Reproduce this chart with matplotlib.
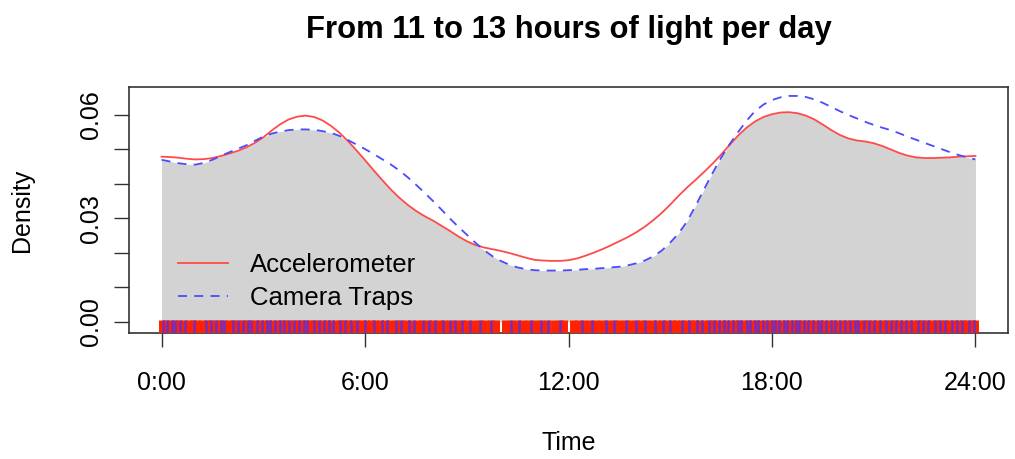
import matplotlib
matplotlib.use("Agg")
import matplotlib.pyplot as plt
import numpy as np

plt.rcParams['font.family'] = ['Liberation Sans', 'DejaVu Sans']

# ---- data ----
hours = [0.0, 0.25, 0.5, 0.75, 1.0, 1.25, 1.5, 1.75, 2.0, 2.25, 2.5, 2.75, 3.0, 3.25, 3.5, 3.75,
         4.0, 4.25, 4.5, 4.75, 5.0, 5.25, 5.5, 5.75, 6.0, 6.25, 6.5, 6.75, 7.0, 7.25, 7.5, 7.75,
         8.0, 8.25, 8.5, 8.75, 9.0, 9.25, 9.5, 9.75, 10.0, 10.25, 10.5, 10.75, 11.0, 11.25,
         11.5, 11.75, 12.0, 12.25, 12.5, 12.75, 13.0, 13.25, 13.5, 13.75, 14.0, 14.25, 14.5,
         14.75, 15.0, 15.25, 15.5, 15.75, 16.0, 16.25, 16.5, 16.75, 17.0, 17.25, 17.5, 17.75,
         18.0, 18.25, 18.5, 18.75, 19.0, 19.25, 19.5, 19.75, 20.0, 20.25, 20.5, 20.75, 21.0,
         21.25, 21.5, 21.75, 22.0, 22.25, 22.5, 22.75, 23.0, 23.25, 23.5, 23.75, 24.0]

accelerometer = [0.0479, 0.0478, 0.0476, 0.0473, 0.0471, 0.0472, 0.0475, 0.0481, 0.0488,
                 0.0496, 0.0506, 0.0519, 0.0535, 0.0555, 0.0573, 0.0587, 0.0595, 0.0598,
                 0.0594, 0.0584, 0.0568, 0.0548, 0.0524, 0.0497, 0.0469, 0.0440, 0.0412,
                 0.0385, 0.0361, 0.0340, 0.0322, 0.0307, 0.0294, 0.0279, 0.0264, 0.0248,
                 0.0234, 0.0223, 0.0216, 0.0211, 0.0206, 0.0200, 0.0193, 0.0186, 0.0180,
                 0.0178, 0.0177, 0.0177, 0.0179, 0.0184, 0.0192, 0.0201, 0.0211, 0.0222,
                 0.0234, 0.0246, 0.0260, 0.0276, 0.0295, 0.0316, 0.0340, 0.0366, 0.0390,
                 0.0412, 0.0435, 0.0459, 0.0485, 0.0513, 0.0540, 0.0563, 0.0581, 0.0594,
                 0.0602, 0.0607, 0.0608, 0.0605, 0.0598, 0.0587, 0.0572, 0.0556, 0.0542,
                 0.0532, 0.0526, 0.0523, 0.0518, 0.0510, 0.0500, 0.0490, 0.0482, 0.0477,
                 0.0475, 0.0475, 0.0476, 0.0477, 0.0479, 0.0480, 0.0481]

camera_traps = [0.0470, 0.0465, 0.0460, 0.0457, 0.0456, 0.0461, 0.0470, 0.0481, 0.0492,
                0.0502, 0.0512, 0.0525, 0.0537, 0.0546, 0.0552, 0.0556, 0.0558, 0.0558,
                0.0557, 0.0553, 0.0548, 0.0539, 0.0527, 0.0514, 0.0501, 0.0487, 0.0472,
                0.0457, 0.0440, 0.0420, 0.0398, 0.0375, 0.0351, 0.0326, 0.0300, 0.0276,
                0.0253, 0.0230, 0.0209, 0.0191, 0.0177, 0.0166, 0.0158, 0.0153, 0.0150,
                0.0149, 0.0149, 0.0149, 0.0150, 0.0151, 0.0153, 0.0154, 0.0156, 0.0158,
                0.0160, 0.0164, 0.0170, 0.0178, 0.0190, 0.0207, 0.0230, 0.0257, 0.0292,
                0.0337, 0.0385, 0.0432, 0.0476, 0.0515, 0.0550, 0.0583, 0.0611, 0.0630,
                0.0643, 0.0651, 0.0655, 0.0655, 0.0652, 0.0645, 0.0635, 0.0623, 0.0611,
                0.0600, 0.0590, 0.0580, 0.0571, 0.0563, 0.0556, 0.0547, 0.0537, 0.0528,
                0.0519, 0.0510, 0.0501, 0.0492, 0.0484, 0.0477, 0.0471]

rug_accelerometer = [0.0, 0.12, 0.25, 0.4, 0.52, 0.66, 0.8, 0.93, 1.05, 1.2, 1.33, 1.47, 1.6,
    1.72, 1.85, 2.0, 2.12, 2.26, 2.4, 2.52, 2.65, 2.78, 2.9, 3.03, 3.15, 3.27, 3.4, 3.52,
    3.64, 3.77, 3.9, 4.02, 4.14, 4.26, 4.38, 4.5, 4.62, 4.75, 4.87, 5.0, 5.13, 5.26, 5.38,
    5.5, 5.63, 5.76, 5.9, 6.03, 6.17, 6.3, 6.45, 6.6, 6.74, 6.9, 7.05, 7.2, 7.36, 7.52,
    7.68, 7.85, 8.0, 8.17, 8.33, 8.5, 8.68, 8.85, 9.02, 9.2, 9.38, 9.55, 9.72, 9.86, 10.14,
    10.3, 10.48, 10.66, 10.84, 11.02, 11.2, 11.38, 11.56, 11.74, 11.86, 12.14, 12.28, 12.46,
    12.64, 12.82, 13.0, 13.17, 13.34, 13.5, 13.66, 13.82, 13.98, 14.14, 14.3, 14.45, 14.6,
    14.75, 14.9, 15.04, 15.18, 15.32, 15.46, 15.6, 15.73, 15.86, 16.0, 16.13, 16.26, 16.39,
    16.52, 16.65, 16.78, 16.9, 17.03, 17.16, 17.28, 17.4, 17.53, 17.66, 17.78, 17.9, 18.03,
    18.15, 18.28, 18.4, 18.52, 18.65, 18.78, 18.9, 19.03, 19.16, 19.28, 19.41, 19.54, 19.67,
    19.8, 19.93, 20.06, 20.19, 20.32, 20.45, 20.58, 20.71, 20.84, 20.97, 21.1, 21.23, 21.36,
    21.5, 21.63, 21.76, 21.9, 22.03, 22.16, 22.3, 22.43, 22.56, 22.7, 22.83, 22.96, 23.1,
    23.23, 23.36, 23.5, 23.63, 23.76, 23.9, 24.0]

rug_camera = [0.05, 0.15, 0.3, 0.4, 0.55, 0.7, 0.95, 1.3, 1.45, 1.6, 1.75, 1.85, 2.1, 2.25,
    2.4, 2.55, 2.65, 2.8, 2.95, 3.1, 3.2, 3.35, 3.5, 3.6, 3.75, 3.9, 4.05, 4.2, 4.3, 4.5,
    4.65, 4.8, 4.95, 5.05, 5.25, 5.4, 5.6, 5.75, 6.0, 6.25, 6.5, 6.65, 6.9, 7.05, 7.3, 7.45,
    7.7, 7.9, 8.05, 8.3, 8.5, 8.65, 8.85, 9.1, 9.4, 9.7, 10.3, 10.55, 10.9, 11.2, 11.4,
    11.75, 12.4, 12.7, 13.1, 13.35, 13.7, 14.0, 14.25, 14.55, 14.8, 15.0, 15.35, 15.55,
    15.8, 15.95, 16.15, 16.3, 16.45, 16.6, 16.7, 16.85, 17.0, 17.1, 17.25, 17.35, 17.5,
    17.6, 17.75, 17.85, 18.0, 18.1, 18.2, 18.35, 18.45, 18.6, 18.7, 18.8, 18.95, 19.05,
    19.2, 19.35, 19.45, 19.6, 19.75, 19.85, 20.0, 20.15, 20.3, 20.45, 20.55, 20.7, 20.85,
    21.0, 21.2, 21.35, 21.5, 21.65, 21.8, 21.95, 22.1, 22.3, 22.45, 22.6, 22.8, 22.95,
    23.1, 23.3, 23.45, 23.6, 23.8, 23.95]

x_ticks = [0, 6, 12, 18, 24]
x_labels = ["0:00", "6:00", "12:00", "18:00", "24:00"]
y_ticks = [0.00, 0.01, 0.02, 0.03, 0.04, 0.05, 0.06]
y_labels = ["0.00", "", "", "0.03", "", "", "0.06"]

title = "From 11 to 13 hours of light per day"
labels = ["Accelerometer", "Camera Traps"]

# ---- drawing ----
RED = "#FF4A4A"
BLUE = "#4A4AFF"
AXC = "#333333"

fig = plt.figure(figsize=(10.15, 4.59), dpi=100)
ax = fig.add_axes([0.1271, 0.2745, 0.866, 0.536])

ylo, yhi = -0.0032, 0.0681
ax.set_xlim(-0.96, 24.96)
ax.set_ylim(ylo, yhi)

h = np.array(hours)
a = np.array(accelerometer)
c = np.array(camera_traps)
ax.fill_between(h, 0, np.minimum(a, c), color="#D3D3D3", lw=0, zorder=1)

l1, = ax.plot(h, a, color=RED, lw=1.3, zorder=3, label=labels[0])
l2, = ax.plot(h, c, color=BLUE, lw=1.3, dashes=(5, 4), zorder=3, label=labels[1])

rug_top = 0.0006
ax.vlines(rug_accelerometer, ylo, rug_top, color="#FF2200", lw=5.0, zorder=4)
ax.vlines(rug_camera, ylo, rug_top, color="#5030F0", lw=1.8, alpha=0.8, zorder=5)

ax.set_xticks(x_ticks)
ax.set_xticklabels(x_labels)
ax.set_yticks(y_ticks)
ax.set_yticklabels(y_labels, rotation=90, va="center")

ax.tick_params(axis="x", length=10, width=1, color=AXC, labelsize=18, pad=17)
ax.tick_params(axis="y", length=11, width=1, color=AXC, labelsize=18, pad=8)
for s in ax.spines.values():
    s.set_color(AXC)
    s.set_linewidth(1.2)

ax.set_xlabel("Time", fontsize=18, labelpad=26)
ax.set_ylabel("Density", fontsize=18, labelpad=32)
ax.set_title(title, fontsize=22.3, fontweight="bold", pad=35)

ax.legend(handles=[l1, l2], loc="lower left", bbox_to_anchor=(0.044, 0.052),
          borderaxespad=0, frameon=False, fontsize=18.5, handlelength=1.95,
          handletextpad=0.85, labelspacing=0.33)

fig.savefig("out.png", dpi=100)
